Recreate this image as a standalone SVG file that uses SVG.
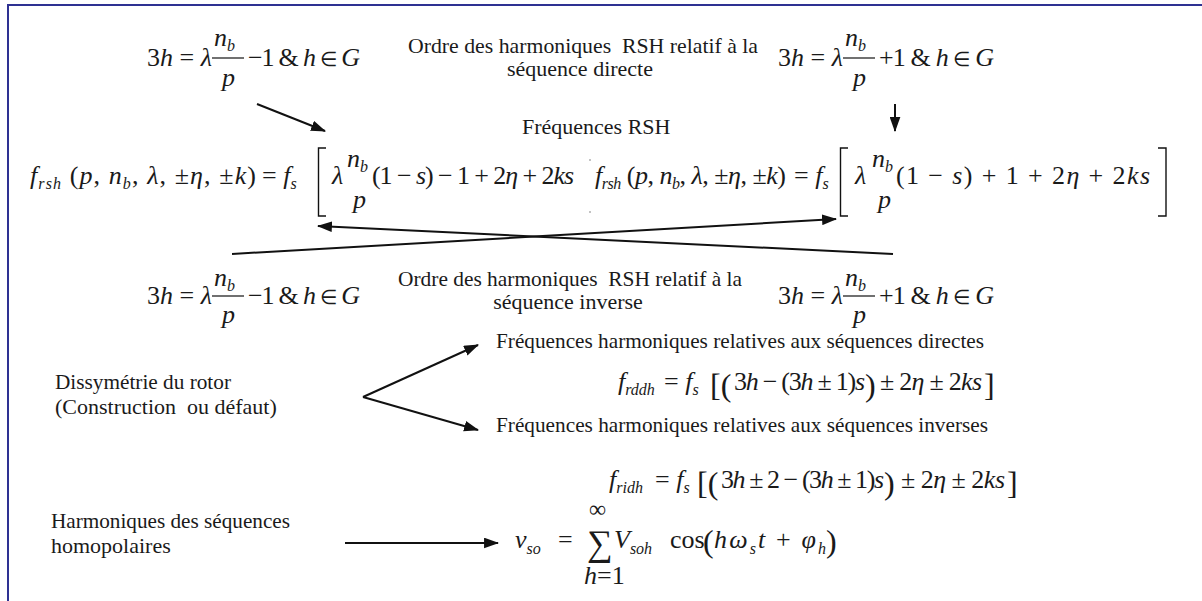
<svg xmlns="http://www.w3.org/2000/svg" width="1202" height="601" viewBox="0 0 1202 601">
<defs>
<style>
text{font-family:"Liberation Serif","Times New Roman",serif;fill:#1a1a1a}
.t{font-size:22px}
.m{font-size:26px}
.i{font-style:italic}
.sb{font-size:16px;font-style:italic}
.el{font-size:20px}
.big{font-size:32px}
.ln{stroke:#111;stroke-width:2;fill:none}
.br{stroke:#111;stroke-width:1.4;fill:none}
.bar{stroke:#111;stroke-width:1.2}
</style>
<marker id="ah" viewBox="0 0 14 10" refX="13" refY="5" markerWidth="7.5" markerHeight="5.5" orient="auto" markerUnits="strokeWidth">
<path d="M0,0 L14,5 L0,10 z" fill="#111"/>
</marker>
</defs>
<rect width="1202" height="601" fill="#fff"/>
<polyline points="8,601 8,5 1202,5" fill="none" stroke="#2e3192" stroke-width="2"/>

<g id="order-direct-minus">
<text class="m" x="147" y="66">3<tspan class="i">h</tspan> = <tspan class="i">λ</tspan></text>
<text class="m i" x="214" y="46">n<tspan class="sb" dy="5">b</tspan></text>
<line class="bar" x1="212" y1="58" x2="244" y2="58"/>
<text class="m i" x="222" y="86">p</text>
<text class="m" x="248" y="66" textLength="112" lengthAdjust="spacing">−1 &amp; <tspan class="i">h</tspan> <tspan class="el">∈</tspan> <tspan class="i">G</tspan></text>
</g>

<g id="label-direct">
<text class="t" x="408" y="53" textLength="350" lengthAdjust="spacingAndGlyphs">Ordre des harmoniques&#160; RSH relatif à la</text>
<text class="t" x="580" y="76" text-anchor="middle">séquence directe</text>
</g>

<g id="order-direct-plus">
<text class="m" x="778" y="66">3<tspan class="i">h</tspan> = <tspan class="i">λ</tspan></text>
<text class="m i" x="845" y="46">n<tspan class="sb" dy="5">b</tspan></text>
<line class="bar" x1="843" y1="58" x2="875" y2="58"/>
<text class="m i" x="853" y="86">p</text>
<text class="m" x="879" y="66" textLength="115" lengthAdjust="spacing">+1 &amp; <tspan class="i">h</tspan> <tspan class="el">∈</tspan> <tspan class="i">G</tspan></text>
</g>

<g id="label-rsh">
<text class="t" x="522" y="134">Fréquences RSH</text>
<circle cx="590" cy="160" r="0.8" fill="#777"/>
<circle cx="590" cy="212" r="0.8" fill="#777"/>
</g>

<g id="frsh-minus">
<text class="m" x="30" y="184" textLength="226" lengthAdjust="spacing"><tspan class="i">f</tspan><tspan class="sb" dy="5">rsh</tspan><tspan dy="-5"> (</tspan><tspan class="i">p</tspan>, <tspan class="i">n</tspan><tspan class="sb" dy="5">b</tspan><tspan dy="-5">, </tspan><tspan class="i">λ</tspan>, ±<tspan class="i">η</tspan>, ±<tspan class="i">k</tspan>)</text>
<text class="m" x="262" y="184">= <tspan class="i">f</tspan><tspan class="sb" dy="5">s</tspan></text>
<path class="br" d="M326,148 H318.5 V216 H326"/>
<text class="m i" x="332" y="184">λ</text>
<text class="m i" x="347" y="167">n<tspan class="sb" dy="5">b</tspan></text>
<text class="m i" x="353" y="208">p</text>
<text class="m" x="372" y="184" textLength="202" lengthAdjust="spacing">(1 − <tspan class="i">s</tspan>) − 1 + 2<tspan class="i">η</tspan> + 2<tspan class="i">ks</tspan></text>
</g>

<g id="frsh-plus">
<text class="m" x="595" y="184" textLength="191" lengthAdjust="spacing"><tspan class="i">f</tspan><tspan class="sb" dy="5">rsh</tspan><tspan dy="-5"> (</tspan><tspan class="i">p</tspan>, <tspan class="i">n</tspan><tspan class="sb" dy="5">b</tspan><tspan dy="-5">, </tspan><tspan class="i">λ</tspan>, ±<tspan class="i">η</tspan>, ±<tspan class="i">k</tspan>)</text>
<text class="m" x="794" y="184">= <tspan class="i">f</tspan><tspan class="sb" dy="5">s</tspan></text>
<path class="br" d="M848,148 H840.5 V216 H848"/>
<text class="m i" x="855" y="184">λ</text>
<text class="m i" x="872" y="167">n<tspan class="sb" dy="5">b</tspan></text>
<text class="m i" x="878" y="208">p</text>
<text class="m" x="896" y="184" textLength="254" lengthAdjust="spacing">(1 − <tspan class="i">s</tspan>) + 1 + 2<tspan class="i">η</tspan> + 2<tspan class="i">ks</tspan></text>
<path class="br" d="M1158,148 H1166 V216 H1158"/>
</g>

<g id="order-inverse-minus">
<text class="m" x="147" y="304">3<tspan class="i">h</tspan> = <tspan class="i">λ</tspan></text>
<text class="m i" x="214" y="286">n<tspan class="sb" dy="5">b</tspan></text>
<line class="bar" x1="212" y1="296" x2="244" y2="296"/>
<text class="m i" x="222" y="323">p</text>
<text class="m" x="248" y="304" textLength="112" lengthAdjust="spacing">−1 &amp; <tspan class="i">h</tspan> <tspan class="el">∈</tspan> <tspan class="i">G</tspan></text>
</g>

<g id="label-inverse">
<text class="t" x="398" y="286" textLength="344" lengthAdjust="spacingAndGlyphs">Ordre des harmoniques&#160; RSH relatif à la</text>
<text class="t" x="568" y="309" text-anchor="middle">séquence inverse</text>
</g>

<g id="order-inverse-plus">
<text class="m" x="778" y="304">3<tspan class="i">h</tspan> = <tspan class="i">λ</tspan></text>
<text class="m i" x="845" y="286">n<tspan class="sb" dy="5">b</tspan></text>
<line class="bar" x1="843" y1="296" x2="875" y2="296"/>
<text class="m i" x="853" y="323">p</text>
<text class="m" x="879" y="304" textLength="115" lengthAdjust="spacing">+1 &amp; <tspan class="i">h</tspan> <tspan class="el">∈</tspan> <tspan class="i">G</tspan></text>
</g>

<g id="rotor">
<text class="t" x="55" y="389" textLength="176" lengthAdjust="spacingAndGlyphs">Dissymétrie du rotor</text>
<text class="t" x="55" y="414">(Construction&#160; ou défaut)</text>
</g>

<g id="direct-freq">
<text class="t" x="496" y="348" textLength="488" lengthAdjust="spacingAndGlyphs">Fréquences harmoniques relatives aux séquences directes</text>
<text class="m" x="618" y="390"><tspan class="i">f</tspan><tspan class="sb" dy="5">rddh</tspan></text>
<text class="m" x="664" y="390">= <tspan class="i">f</tspan><tspan class="sb" dy="5">s</tspan></text>
<text class="big" x="710" y="396">[(</text>
<text class="m" x="734" y="390" textLength="131" lengthAdjust="spacing">3<tspan class="i">h</tspan> − (3<tspan class="i">h</tspan> ± 1)<tspan class="i">s</tspan></text>
<text class="big" x="865" y="396">)</text>
<text class="m" x="880" y="390" textLength="102" lengthAdjust="spacing">± 2<tspan class="i">η</tspan> ± 2<tspan class="i">ks</tspan></text>
<text class="big" x="984" y="396">]</text>
</g>

<g id="inverse-freq">
<text class="t" x="496" y="432" textLength="492" lengthAdjust="spacingAndGlyphs">Fréquences harmoniques relatives aux séquences inverses</text>
<text class="m" x="609" y="488"><tspan class="i">f</tspan><tspan class="sb" dy="5">ridh</tspan></text>
<text class="m" x="655" y="488">= <tspan class="i">f</tspan><tspan class="sb" dy="5">s</tspan></text>
<text class="big" x="697" y="494">[(</text>
<text class="m" x="721" y="488" textLength="163" lengthAdjust="spacing">3<tspan class="i">h</tspan> ± 2 − (3<tspan class="i">h</tspan> ± 1)<tspan class="i">s</tspan></text>
<text class="big" x="884" y="494">)</text>
<text class="m" x="901" y="488" textLength="104" lengthAdjust="spacing">± 2<tspan class="i">η</tspan> ± 2<tspan class="i">ks</tspan></text>
<text class="big" x="1007" y="494">]</text>
</g>

<g id="homopolar">
<text class="t" x="51" y="528" textLength="239" lengthAdjust="spacingAndGlyphs">Harmoniques des séquences</text>
<text class="t" x="51" y="553">homopolaires</text>
</g>

<g id="vso">
<text class="m i" x="515" y="548">v<tspan class="sb" dy="6" font-size="19">so</tspan></text>
<text class="m" x="558" y="548">=</text>
<text x="587" y="555" font-size="36">∑</text>
<text x="589" y="517" font-size="24">∞</text>
<text class="m" x="584" y="584"><tspan class="i">h</tspan>=1</text>
<text class="m i" x="614" y="548">V<tspan class="sb" dy="6" font-size="19">soh</tspan></text>
<text class="m" x="670" y="548">cos</text>
<text class="big" x="703" y="552">(</text>
<text class="m i" x="714" y="548" textLength="112" lengthAdjust="spacing">hω<tspan class="sb" dy="6" font-size="19">s</tspan><tspan dy="-6">t</tspan><tspan font-style="normal"> + </tspan>φ<tspan class="sb" dy="6" font-size="19">h</tspan></text>
<text class="big" x="826" y="552">)</text>
</g>

<g id="connectors">
<line class="ln" x1="257" y1="104" x2="325" y2="131" marker-end="url(#ah)"/>
<line class="ln" x1="895" y1="104" x2="895" y2="131" marker-end="url(#ah)"/>
<line class="ln" x1="893" y1="254" x2="318" y2="226" marker-end="url(#ah)"/>
<line class="ln" x1="232" y1="254" x2="836" y2="219" marker-end="url(#ah)"/>
<line class="ln" x1="363" y1="397" x2="478" y2="345" marker-end="url(#ah)"/>
<line class="ln" x1="363" y1="397" x2="478" y2="430" marker-end="url(#ah)"/>
<line class="ln" x1="345" y1="543" x2="498" y2="543" marker-end="url(#ah)"/>
</g>
</svg>
